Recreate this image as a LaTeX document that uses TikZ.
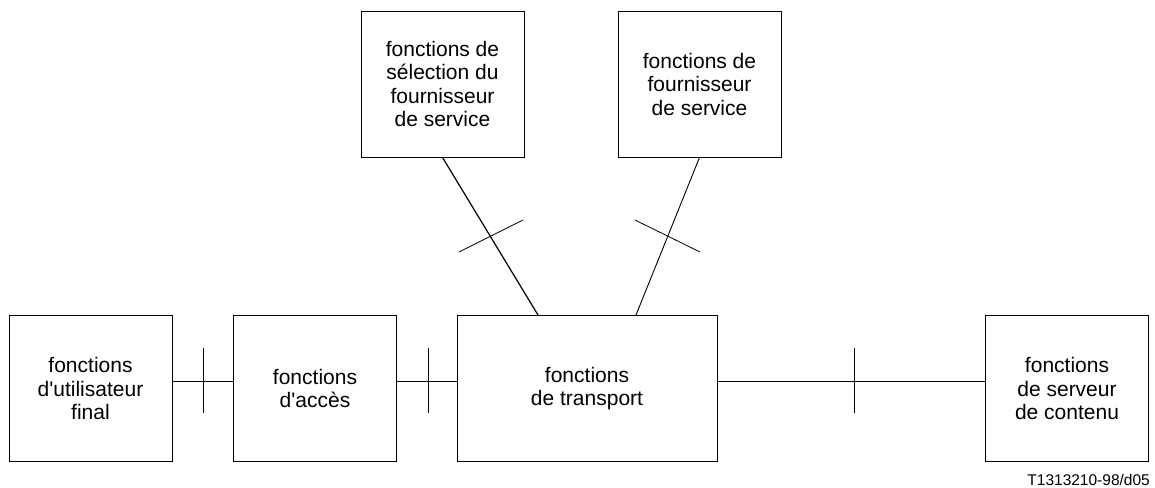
\documentclass[tikz,border=0pt]{standalone}
\usepackage{fontspec}
\setmainfont{Liberation Sans}[Ligatures=TeXOff]
\begin{document}
\begin{tikzpicture}[x=1pt,y=-1pt,
  fbox/.style={draw,line width=0.9pt,minimum width=163pt,minimum height=146pt,inner sep=0pt,
    align=center,font=\fontsize{21}{23.5}\selectfont},
  link/.style={line width=0.9pt},
  tick/.style={line width=0.8pt}]
\useasboundingbox (0,0) rectangle (1155,487);
% functional blocks
\node[fbox] (user) at (90.5,388.5) {fonctions\\d'utilisateur\\final};
\node[fbox] (access) at (315,388.5) {fonctions\\d'accès};
\node[fbox,minimum width=260pt] (transport) at (587,388.5) {fonctions\\de transport};
\node[fbox] (content) at (1067,388.5) {fonctions\\de serveur\\de contenu};
\node[fbox] (select) at (442.5,84) {fonctions de\\sélection du\\fournisseur\\de service};
\node[fbox] (provider) at (699.5,84) {fonctions de\\fournisseur\\de service};
% horizontal links
\draw[link] (user.east |- 0,381) -- (access.west |- 0,381);
\draw[link] (access.east |- 0,381) -- (transport.west |- 0,381);
\draw[link] (transport.east |- 0,381) -- (content.west |- 0,381);
% diagonal links
\coordinate (tsel) at (538,315);
\coordinate (tprov) at (636,315);
\draw[line width=1.2pt] (select.south) -- (tsel);
\draw[link] (provider.south) -- (tprov);
% reference point marks
\coordinate (r1a) at (203,348); \coordinate (r1b) at (203,413);
\coordinate (r2a) at (428,348); \coordinate (r2b) at (428,413);
\coordinate (r3a) at (854,348); \coordinate (r3b) at (854,413);
\coordinate (r4a) at (459,252); \coordinate (r4b) at (523,220);
\coordinate (r5a) at (635,220); \coordinate (r5b) at (700,252);
\draw[tick] (r1a) -- (r1b);
\draw[tick] (r2a) -- (r2b);
\draw[tick] (r3a) -- (r3b);
\draw[tick] (r4a) -- (r4b);
\draw[tick] (r5a) -- (r5b);
% figure number
\node[anchor=base east,inner sep=0pt,font=\fontsize{15.5}{18}\selectfont] (fig) at (1150,485) {T1313210-98/d05};
\end{tikzpicture}
\end{document}
